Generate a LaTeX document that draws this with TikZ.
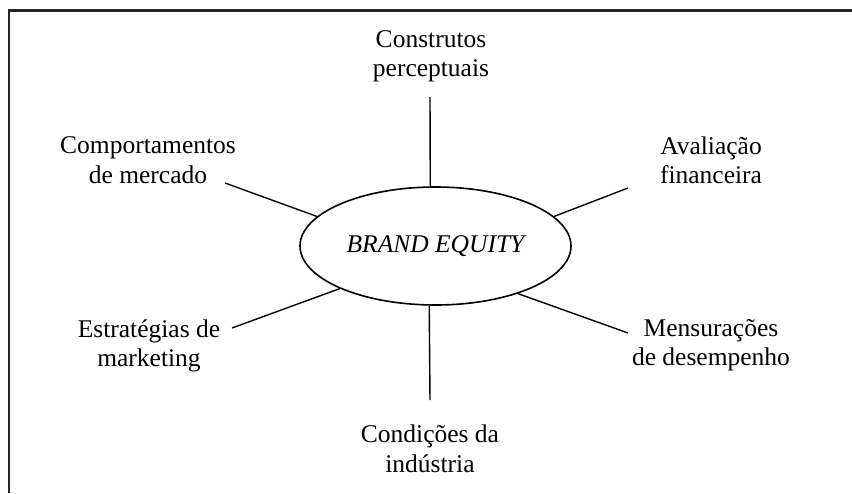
\documentclass[tikz,border=0pt]{standalone}
\usepackage{fontspec}
\setmainfont{Liberation Serif}
\usetikzlibrary{shapes.geometric}
\begin{document}
\begin{tikzpicture}[x=1pt,y=-1pt,
  lab/.style={align=center,anchor=center,inner sep=0pt,font=\fontsize{25.5}{29.5}\selectfont},
  conn/.style={line width=1.4pt,black},
  frame/.style={line width=2.6pt,black!85}]
\useasboundingbox (0,0) rectangle (852,493);
\draw[frame] (8.8,493) -- (8.8,10.5) -- (852,10.5);
\node[ellipse,draw,line width=1.6pt,minimum width=271pt,minimum height=118pt,inner sep=0pt,
  font=\fontsize{25.5}{29.5}\selectfont\itshape] (ell) at (435.5,246) {BRAND EQUITY};
\node[lab] (cp) at (431,56.2) {\strut Construtos\\\strut perceptuais};
\node[lab] (cm) at (148,162.7) {\strut Comportamentos\\\strut de mercado};
\node[lab] (af) at (711,163) {\strut Avaliação\\\strut financeira};
\node[lab] (em) at (149,346) {\strut Estratégias de\\\strut marketing};
\node[lab] (md) at (711,345) {\strut Mensurações\\\strut de desempenho};
\node[lab] (ci) at (430,451.7) {\strut Condições da\\\strut indústria};
\coordinate (t1) at (430,97);
\coordinate (t2) at (225,183);
\coordinate (t3) at (628,188);
\coordinate (t4) at (232,328);
\coordinate (t5) at (628,333);
\coordinate (t6) at (430,400);
\draw[conn] (t1) -- (ell.95.3);
\draw[conn] (t2) -- (ell.166.1);
\draw[conn] (t3) -- (ell.14.9);
\draw[conn] (t4) -- (ell.204);
\draw[conn] (t5) -- (ell.330.9);
\draw[conn] (t6) -- (ell.264.7);
\end{tikzpicture}
\end{document}
